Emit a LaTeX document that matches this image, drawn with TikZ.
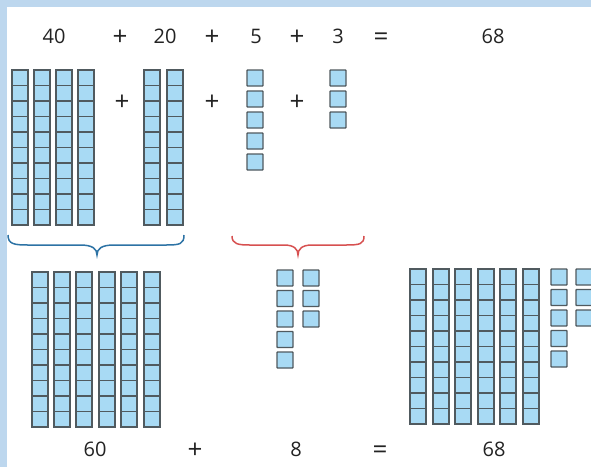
\documentclass[tikz,border=0pt]{standalone}
\usepackage{fontspec}
\setmainfont{Open Sans}
\definecolor{cubeblue}{RGB}{168,218,244}
\definecolor{cubeedge}{RGB}{80,90,95}
\definecolor{frameblue}{RGB}{189,215,238}
\definecolor{tensblue}{RGB}{45,115,165}
\definecolor{onesred}{RGB}{215,80,80}
\definecolor{numgrey}{RGB}{35,35,35}
\tikzset{
    cube/.style={fill=cubeblue, draw=cubeedge, line width=1.4pt},
    cubeline/.style={draw=cubeedge, line width=1.3pt},
    numlbl/.style={font=\fontsize{20}{24}\selectfont, text=numgrey, inner sep=0pt, anchor=base},
    oplbl/.style={font=\fontsize{26}{30}\selectfont, text=numgrey, inner sep=0pt, anchor=base},
    tensbrace/.style={draw=tensblue, line width=1.5pt},
    onesbrace/.style={draw=onesred, line width=1.5pt}
}
% one rod of ten, top left corner at (#1,#2)
\newcommand{\tenrod}[2]{%
    \draw[cube] (#1,#2) rectangle ++(16,155);
    \foreach \k in {1,...,9} \draw[cubeline] (#1,#2+\k*15.5) -- ++(16,0);
}
% one single unit cube
\newcommand{\unitcube}[2]{%
    \draw[cube, rounded corners=0.6pt] (#1,#2) rectangle ++(16,16);
}
\begin{document}
\begin{tikzpicture}[x=1pt, y=-1pt]
    \useasboundingbox (0,0) rectangle (591,467);
    % Frame
    \fill[white] (0,0) rectangle (591,467);
    \fill[frameblue] (0,0) rectangle (591,7);
    \fill[frameblue] (0,0) rectangle (7,467);

    % Top row of numbers
    \node[numlbl] (t40) at (54,43) {40};
    \node[oplbl] (tp1) at (120,45) {+};
    \node[numlbl] (t20) at (165,43) {20};
    \node[oplbl] (tp2) at (212,45) {+};
    \node[numlbl] (t5) at (256,43) {5};
    \node[oplbl] (tp3) at (297,45) {+};
    \node[numlbl] (t3) at (338,43) {3};
    \node[oplbl] (teq) at (381,45) {=};
    \node[numlbl] (t68) at (493,43) {68};

    % Blocks (top)
    \foreach \x in {12,34,56,78} {\tenrod{\x}{70}}
    \node[oplbl] (mp1) at (122,110) {+};
    \foreach \x in {144,167} {\tenrod{\x}{70}}
    \node[oplbl] (mp2) at (212,110) {+};
    \foreach \k in {0,...,4} {\unitcube{247}{70+\k*21}}
    \node[oplbl] (mp3) at (297,110) {+};
    \foreach \k in {0,...,2} {\unitcube{330}{70+\k*21}}

    % Braces
    \draw[tensbrace] (8,235) .. controls (8,244) and (14,245) .. (28,245)
        -- (80,245) .. controls (93,245) and (97,249) .. (97,255)
        .. controls (97,249) and (101,245) .. (114,245)
        -- (166,245) .. controls (180,245) and (184,244) .. (184,235);
    \draw[onesbrace] (232,236) .. controls (232,244) and (238,245) .. (250,245)
        -- (284,245) .. controls (294,245) and (298,249) .. (298,255)
        .. controls (298,249) and (302,245) .. (312,245)
        -- (346,245) .. controls (360,245) and (364,244) .. (364,236);

    % Blocks (bottom)
    \foreach \x in {32,54,76,99,121,144} {\tenrod{\x}{272}}
    \foreach \k in {0,...,4} {\unitcube{277}{270+\k*20.5}}
    \foreach \k in {0,...,2} {\unitcube{303}{270+\k*20.5}}
    \foreach \x in {410,433,455,478,500,523} {\tenrod{\x}{269}}
    \foreach \k in {0,...,4} {\unitcube{551}{269+\k*20.5}}
    \foreach \k in {0,...,2} {\unitcube{576}{269+\k*20.5}}

    % Bottom row of numbers
    \node[numlbl] (b60) at (95,456) {60};
    \node[oplbl] (bp) at (195,458) {+};
    \node[numlbl] (b8) at (296,456) {8};
    \node[oplbl] (beq) at (380,458) {=};
    \node[numlbl] (b68) at (494,456) {68};
\end{tikzpicture}
\end{document}
